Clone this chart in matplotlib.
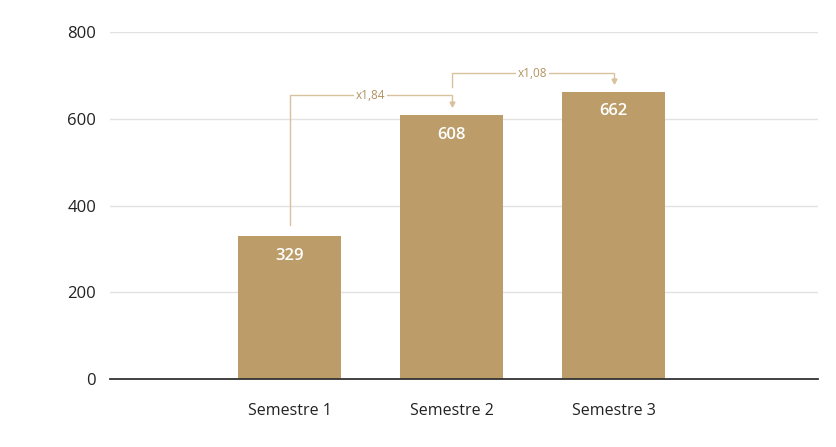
import matplotlib.pyplot as plt

categories = ['Semestre 1', 'Semestre 2', 'Semestre 3']
values = [329, 608, 662]
ratios = ['x1,84', 'x1,08']
yticks = [0, 200, 400, 600, 800]

bar_color = '#BC9C68'
line_color = '#D8C29E'
plt.rcParams['font.family'] = ['Open Sans', 'DejaVu Sans']

fig = plt.figure(figsize=(8.36, 4.47), dpi=100)
ax = fig.add_axes([110/836, 1-379/447, 708/836, 347/447])

x = list(range(len(categories)))
ax.bar(x, values, width=0.636, color=bar_color, zorder=2)

# value labels inside bars
for xi, v in zip(x, values):
    ax.annotate(str(v), (xi, v), xytext=(0, -14), textcoords='offset points',
                ha='center', va='center', color='white', fontsize=12, fontweight='semibold')

# growth brackets
starts = [values[0] + 25, values[1] + 65]
tops = [654, 705]
for i, r in enumerate(ratios):
    x0, x1 = x[i], x[i + 1]
    tip = values[i + 1] + 22
    ax.plot([x0, x0, x1, x1], [starts[i], tops[i], tops[i], tip + 8],
            color=line_color, lw=1, zorder=3, solid_joinstyle='miter')
    ax.plot([x1], [tip + 4], marker='v', ms=3.5, color=line_color, zorder=3)
    ax.text((x0 + x1) / 2, tops[i], r, ha='center', va='center', fontsize=8.5,
            color='#B39260', zorder=4,
            bbox=dict(facecolor='white', edgecolor='none', pad=1.5))

ax.set_xlim(-1.108, 3.262)
ax.set_ylim(0, 800)
ax.set_yticks(yticks)
ax.set_xticks(x)
ax.set_xticklabels(categories)
ax.grid(axis='y', color='#e2e2e2', lw=1, zorder=0)
for s in ['top', 'right', 'left']:
    ax.spines[s].set_visible(False)
ax.spines['bottom'].set_color('#333333')
ax.spines['bottom'].set_linewidth(1.3)
ax.spines['bottom'].set_zorder(3)
ax.tick_params(axis='y', length=0, pad=10, labelsize=12, labelcolor='#222222')
ax.tick_params(axis='x', length=0, pad=17, labelsize=11.5, labelcolor='#222222')

fig.savefig('out.png', dpi=100)
